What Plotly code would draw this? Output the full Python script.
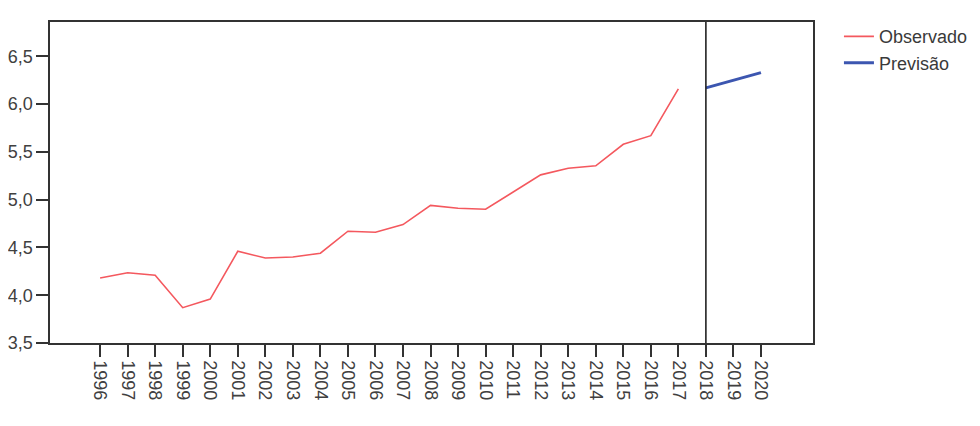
import plotly.graph_objects as go

anos_obs = [1996, 1997, 1998, 1999, 2000, 2001, 2002, 2003, 2004, 2005, 2006,
            2007, 2008, 2009, 2010, 2011, 2012, 2013, 2014, 2015, 2016, 2017]
observado = [4.18, 4.235, 4.21, 3.87, 3.96, 4.46, 4.39, 4.40, 4.44, 4.67, 4.66,
             4.74, 4.94, 4.91, 4.90, 5.08, 5.26, 5.33, 5.355, 5.58, 5.67, 6.16]

# Forecast series
anos_prev = [2018, 2019, 2020]
previsao = [6.17, 6.25, 6.33]

anos_ticks = list(range(1996, 2021))
y_ticks = [3.5, 4.0, 4.5, 5.0, 5.5, 6.0, 6.5]

fig = go.Figure()
fig.add_trace(go.Scatter(
    x=anos_obs,
    y=observado,
    mode='lines',
    name='Observado',
    line=dict(color='#f4585e', width=1.6)
))
fig.add_trace(go.Scatter(
    x=anos_prev,
    y=previsao,
    mode='lines',
    name='Previsão',
    line=dict(color='#3c56b0', width=3)
))

# vertical marker at the start of the forecast
fig.add_shape(type='line', xref='x', yref='paper',
              x0=2018, x1=2018, y0=0, y1=1,
              line=dict(color='#222222', width=1.6))

axis_font = dict(family='Liberation Sans, Arial, sans-serif', size=18, color='#404040')

fig.update_layout(
    width=972,
    height=418,
    margin=dict(l=42, r=167, t=14, b=83, autoexpand=False),
    paper_bgcolor='white',
    plot_bgcolor='white',
    separators=',.',
    showlegend=True,
    legend=dict(
        x=1.034, y=1.012, xanchor='left', yanchor='top',
        font=dict(family='Liberation Sans, Arial, sans-serif', size=18, color='#3a3a3a'),
        itemwidth=30,
        tracegroupgap=0,
        bgcolor='rgba(0,0,0,0)'
    ),
    xaxis=dict(
        range=[1994.18, 2021.89],
        tickmode='array',
        tickvals=anos_ticks,
        ticktext=[str(a) for a in anos_ticks],
        tickangle=90,
        ticks='outside',
        ticklen=12,
        tickwidth=1.5,
        tickcolor='#333333',
        showgrid=False,
        zeroline=False,
        showline=True,
        linecolor='#333333',
        linewidth=1.5,
        mirror=True,
        automargin=False,
        tickfont=axis_font
    ),
    yaxis=dict(
        range=[3.5, 6.86],
        tickmode='array',
        tickvals=y_ticks,
        tickformat='.1f',
        ticks='outside',
        ticklen=12,
        tickwidth=1.5,
        tickcolor='#333333',
        showgrid=False,
        zeroline=False,
        showline=True,
        linecolor='#333333',
        linewidth=1.5,
        mirror=True,
        automargin=False,
        tickfont=axis_font
    )
)

fig.write_html("out.html")
